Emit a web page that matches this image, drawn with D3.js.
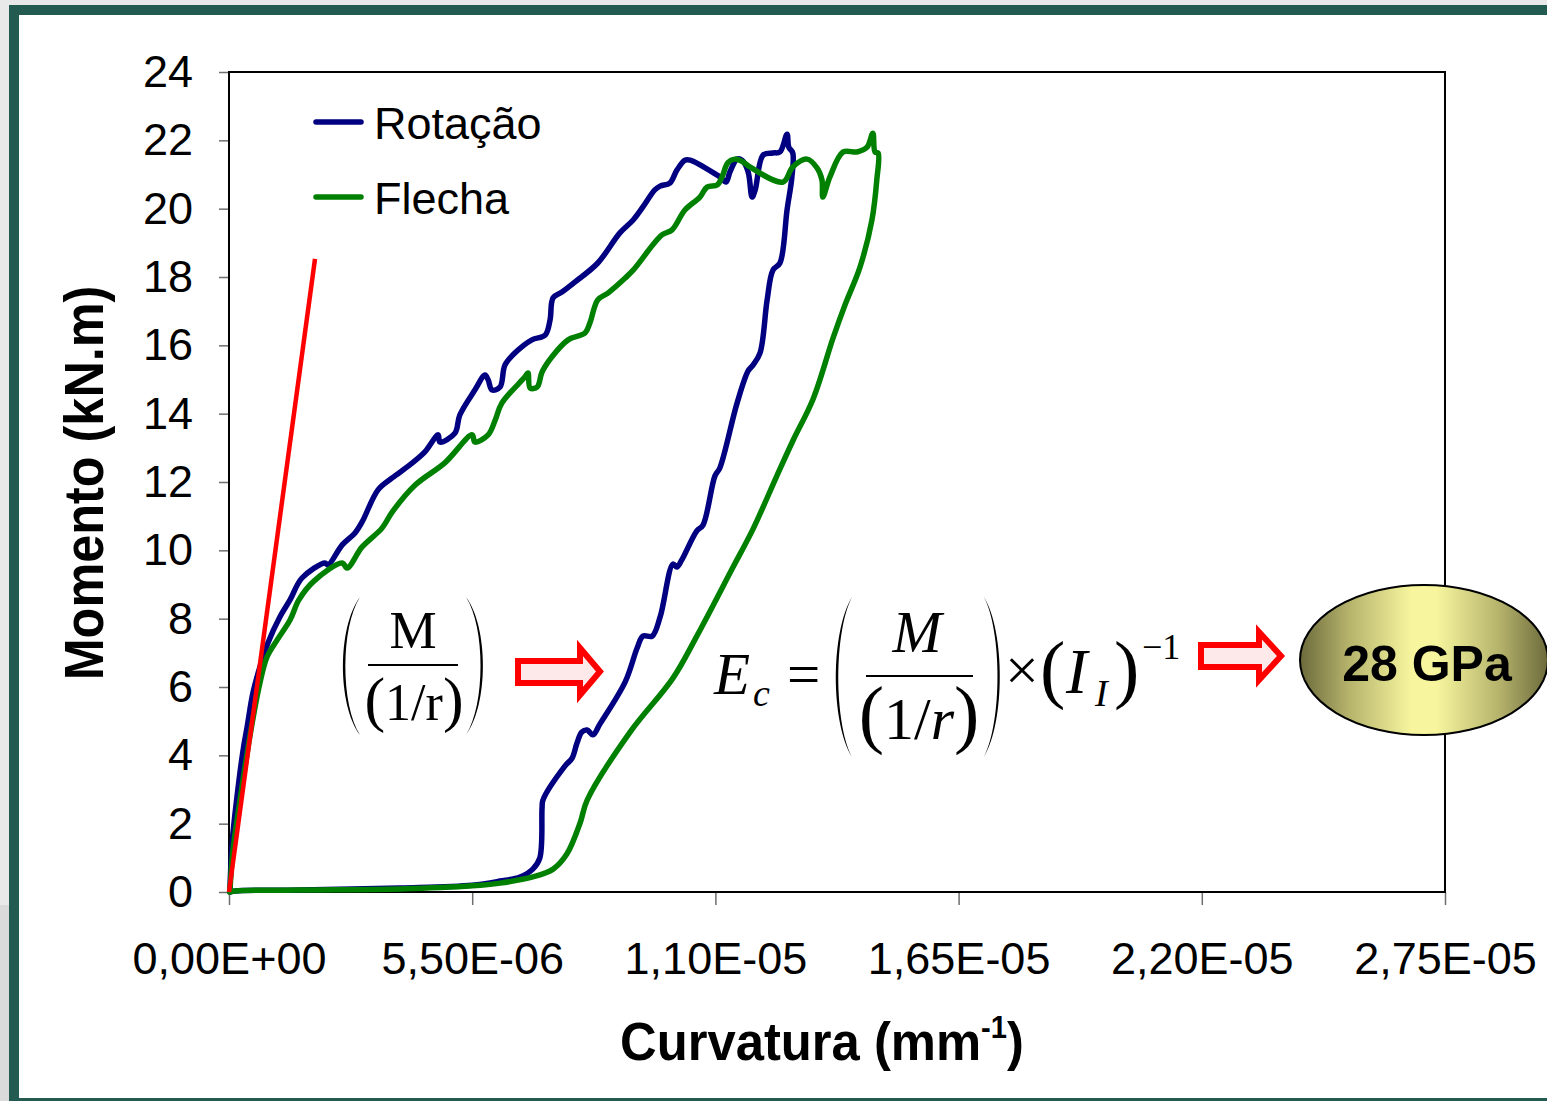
<!DOCTYPE html>
<html>
<head>
<meta charset="utf-8">
<script src="https://cdn.jsdelivr.net/npm/d3@7"></script>
<style>
  html, body { margin: 0; padding: 0; background: #e9e9e9; overflow: hidden; }
  svg { display: block; }
</style>
</head>
<body>
<svg id="chart" width="1547" height="1101"></svg>
<script>
// Curvature in units of 1e-6 mm^-1, moment in kN.m
const rotacao = [
  [0.02,0],[0.07,1.43],[0.18,2.78],[0.32,4.16],[0.41,4.83],[0.54,5.82],[0.70,6.59],[0.88,7.29],
  [1.15,8.05],[1.38,8.55],[1.65,9.19],[2.17,9.63],[2.24,9.57],[2.56,10.16],[2.85,10.51],[3.01,10.83],
  [3.37,11.77],[3.69,12.12],[4.09,12.50],[4.43,12.88],[4.73,13.38],[4.77,13.17],[5.11,13.43],[5.22,13.96],
  [5.56,14.69],[5.79,15.13],[5.86,14.99],[5.95,14.69],[6.13,14.78],[6.24,15.42],[6.47,15.78],[6.85,16.16],
  [7.15,16.30],[7.26,16.74],[7.33,17.39],[7.53,17.56],[7.82,17.85],[8.34,18.41],[8.84,19.29],[9.14,19.67],
  [9.36,20.05],[9.63,20.55],[9.75,20.66],[9.97,20.75],[10.13,21.13],[10.31,21.42],[10.43,21.42],[11.04,20.98],
  [11.10,20.93],[11.24,20.78],[11.33,21.08],[11.49,21.45],[11.60,21.42],[11.74,21.08],[11.83,20.34],[11.90,20.55],
  [12.08,21.57],[12.30,21.63],[12.46,21.66],[12.62,22.18],[12.66,21.80],[12.75,21.63],
  [12.73,20.93],[12.62,19.96],[12.46,18.41],[12.30,18.20],[12.17,17.33],[12.01,15.78],[11.85,15.42],[11.74,15.25],
  [11.49,14.31],[11.10,12.41],[10.99,12.18],[10.72,10.74],[10.58,10.57],[10.24,9.72],[10.13,9.51],[10.04,9.60],
  [9.75,8.05],[9.57,7.49],[9.36,7.49],[9.23,7.14],[8.96,6.15],[8.39,4.92],[8.23,4.60],[8.10,4.74],
  [7.98,4.68],[7.87,4.36],[7.76,3.92],[7.60,3.69],[7.10,2.69],[7.08,2.46],[7.03,1.00],[6.87,0.67],
  [6.58,0.44],[6.13,0.32],[5.50,0.20],[3.87,0.12],[1.61,0.06],[0.14,0.03],[0.02,0]
];

const flecha = [
  [0.02,0],[0.09,1.23],[0.25,2.69],[0.47,4.54],[0.70,6.12],[0.86,6.88],[1.09,7.38],[1.38,7.96],
  [1.58,8.55],[1.92,9.10],[2.56,9.63],[2.67,9.48],[3.01,10.10],[3.46,10.65],[3.69,11.12],[4.21,11.91],
  [4.88,12.56],[5.50,13.38],[5.56,13.17],[5.86,13.38],[6.02,13.81],[6.17,14.31],[6.69,15.07],[6.76,15.19],
  [6.81,14.75],[6.97,14.78],[7.08,15.22],[7.30,15.66],[7.67,16.16],[8.05,16.36],[8.16,16.65],[8.34,17.33],
  [8.57,17.53],[8.96,17.97],[9.14,18.20],[9.79,19.23],[10.02,19.38],[10.31,19.96],[10.65,20.34],[10.81,20.63],
  [11.04,20.69],[11.15,20.93],[11.28,21.34],[11.44,21.45],[11.62,21.37],[11.78,21.22],[12.53,20.78],[12.75,21.22],
  [13.07,21.45],[13.30,21.19],[13.41,20.84],[13.43,20.34],[13.59,20.93],[13.89,21.66],[14.20,21.66],[14.43,21.80],
  [14.56,22.21],[14.61,21.66],[14.68,21.63],
  [14.65,20.84],[14.54,19.67],[14.27,18.29],[13.93,17.18],[13.66,16.21],[13.21,14.43],[12.75,13.20],[12.39,12.18],
  [11.85,10.62],[11.40,9.51],[10.58,7.49],[10.04,6.26],[9.07,4.68],[8.10,2.69],[7.94,2.02],[7.64,1.11],
  [7.33,0.67],[6.87,0.44],[6.13,0.26],[5.50,0.18],[3.87,0.09],[1.61,0.06],[0.14,0.03],[0.02,0]
];

// Initial tangent (elastic stiffness)
const tangente = [[0,0],[1.945,18.53]];

const seriesNames = ["Rotação", "Flecha"];
const seriesColors = ["#000080", "#008000"];

const yTickValues = [0,2,4,6,8,10,12,14,16,18,20,22,24];
const xTickValues = [0,5.5,11,16.5,22,27.5];
const xTickLabels = ["0,00E+00","5,50E-06","1,10E-05","1,65E-05","2,20E-05","2,75E-05"];

const resultLabel = "28 GPa";

// ---------------------------------------------------------------
const svg = d3.select("#chart");
const W = 1547, H = 1101;
const sans = "'Liberation Sans', Arial, Helvetica, sans-serif";
const serif = "'Liberation Serif', 'Times New Roman', Times, serif";

// Slide frame
svg.append("rect").attr("x",0).attr("y",0).attr("width",W).attr("height",H).attr("fill","#e9e9e9");
svg.append("rect").attr("x",0).attr("y",905).attr("width",10).attr("height",H-905).attr("fill","#dadada");
svg.append("rect").attr("x",9).attr("y",5).attr("width",W).attr("height",H).attr("fill","#235b51");
svg.append("rect").attr("x",19).attr("y",15).attr("width",W).attr("height",1083).attr("fill","#ffffff");

const plot = {left:229, top:72, right:1445, bottom:892};
const x = d3.scaleLinear().domain([0,27.5]).range([plot.left, plot.right]);
const y = d3.scaleLinear().domain([0,24]).range([plot.bottom, plot.top]);

// Axes
const yAxis = svg.append("g")
  .attr("transform", `translate(${plot.left},0)`)
  .call(d3.axisLeft(y).tickValues(yTickValues).tickSize(10).tickSizeOuter(0).tickPadding(26));
const xAxis = svg.append("g")
  .attr("transform", `translate(0,${plot.bottom})`)
  .call(d3.axisBottom(x).tickValues(xTickValues).tickSize(13).tickSizeOuter(0).tickPadding(37)
    .tickFormat((d,i) => xTickLabels[i]));
[yAxis, xAxis].forEach(g => {
  g.select(".domain").remove();
  g.selectAll(".tick line").attr("stroke","#6e6e6e").attr("stroke-width",1.5);
  g.selectAll(".tick text").attr("fill","#000").style("font-family",sans).style("font-size","45px");
});

// Plot frame
svg.append("rect")
  .attr("x",plot.left).attr("y",plot.top)
  .attr("width",plot.right-plot.left).attr("height",plot.bottom-plot.top)
  .attr("fill","none").attr("stroke","#000").attr("stroke-width",2);

// Curves
const line = d3.line().x(d => x(d[0])).y(d => y(d[1])).curve(d3.curveCatmullRom.alpha(0.5));
[rotacao, flecha].forEach((data,i) => {
  svg.append("path").datum(data)
    .attr("d", line)
    .attr("fill","none")
    .attr("stroke", seriesColors[i])
    .attr("stroke-width",5.5)
    .attr("stroke-linejoin","round")
    .attr("stroke-linecap","round");
});
svg.append("path").datum(tangente)
  .attr("d", d3.line().x(d => x(d[0])).y(d => y(d[1])))
  .attr("fill","none").attr("stroke","#ff0000").attr("stroke-width",4.5);

// Legend
seriesNames.forEach((name,i) => {
  const ly = 122 + i*75;
  svg.append("line").attr("x1",316).attr("x2",361).attr("y1",ly).attr("y2",ly)
    .attr("stroke",seriesColors[i]).attr("stroke-width",5.5).attr("stroke-linecap","round");
  svg.append("text").attr("x",374).attr("y",ly+17).text(name)
    .style("font-family",sans).style("font-size","45px").attr("fill","#000");
});

// Axis titles
svg.append("text")
  .attr("transform","translate(103,483) rotate(-90) scale(0.9,1)")
  .attr("text-anchor","middle")
  .style("font-family",sans).style("font-size","56px").style("font-weight","bold")
  .text("Momento (kN.m)");

const xt = svg.append("text")
  .attr("transform","translate(822,1060) scale(0.94,1)")
  .attr("text-anchor","middle")
  .style("font-family",sans).style("font-size","54px").style("font-weight","bold");
xt.append("tspan").text("Curvatura (mm");
xt.append("tspan").attr("dy",-22).style("font-size","31px").text("-1");
xt.append("tspan").attr("dy",22).text(")");

// Tall parentheses drawn as tapered crescents
function parenPath(edge, yTop, yBot, w, dir, t) {
  const tipX = edge + dir*w;
  const h = yBot - yTop;
  const cOut = (edge - 0.25*tipX)/0.75;
  const cIn = (edge + dir*t - 0.25*tipX)/0.75;
  return `M${tipX},${yTop} C${cOut},${yTop+0.22*h} ${cOut},${yBot-0.22*h} ${tipX},${yBot}` +
         ` C${cIn},${yBot-0.22*h} ${cIn},${yTop+0.22*h} ${tipX},${yTop}Z`;
}
function bigParens(left, right, yTop, yBot, w) {
  svg.append("path").attr("d", parenPath(left, yTop, yBot, w, 1, 2.4)).attr("fill","#000");
  svg.append("path").attr("d", parenPath(right, yTop, yBot, w, -1, 2.4)).attr("fill","#000");
}
function serifText(txt, xx, yy, size, opts = {}) {
  return svg.append("text").attr("x",xx).attr("y",yy)
    .attr("text-anchor", opts.anchor || "start")
    .style("font-family",serif).style("font-size",size+"px")
    .style("font-style", opts.italic ? "italic" : "normal")
    .attr("fill","#000").text(txt);
}

// Formula: M / (1/r)
bigParens(343, 483, 597, 735, 17);
serifText("M", 413, 648, 53, {anchor:"middle"});
svg.append("line").attr("x1",368).attr("x2",458).attr("y1",665).attr("y2",665)
  .attr("stroke","#000").attr("stroke-width",2);
{
  const t = svg.append("text").attr("x",414).attr("y",720).attr("text-anchor","middle")
    .style("font-family",serif).attr("fill","#000");
  t.append("tspan").style("font-size","62px").text("(");
  t.append("tspan").style("font-size","52px").text("1/r");
  t.append("tspan").style("font-size","62px").text(")");
}

// Formula: Ec = (M / (1/r)) x (I_I)^-1
serifText("E", 714, 694, 59, {italic:true});
serifText("c", 753, 706, 38, {italic:true});
serifText("=", 787, 694, 59);
bigParens(836, 1000, 597, 757, 16);
serifText("M", 917, 652, 59, {anchor:"middle", italic:true});
svg.append("line").attr("x1",866).attr("x2",973).attr("y1",676).attr("y2",676)
  .attr("stroke","#000").attr("stroke-width",2);
{
  const t = svg.append("text").attr("x",919).attr("y",739).attr("text-anchor","middle")
    .style("font-family",serif).attr("fill","#000");
  t.append("tspan").style("font-size","76px").text("(");
  t.append("tspan").style("font-size","60px").text("1/");
  t.append("tspan").style("font-size","60px").style("font-style","italic").text("r");
  t.append("tspan").style("font-size","76px").text(")");
}
serifText("×", 1005, 690, 60);
serifText("(", 1040, 694, 76);
serifText("I", 1066, 693, 64, {italic:true});
serifText("I", 1095, 706, 38, {italic:true});
serifText(")", 1114, 694, 76);
serifText("−1", 1142, 659, 36);

// Hollow arrows
function arrow(left, shaftTop, shaftBot, headX, headTop, headBot, tipX) {
  const mid = (headTop + headBot)/2;
  svg.append("path")
    .attr("d", `M${left},${shaftTop} L${headX},${shaftTop} L${headX},${headTop} L${tipX},${mid}` +
               ` L${headX},${headBot} L${headX},${shaftBot} L${left},${shaftBot}Z`)
    .attr("fill","#fde8ea").attr("stroke","#ff0000").attr("stroke-width",6)
    .attr("stroke-linejoin","miter");
}
arrow(518, 661, 683, 580, 648, 695, 600);
arrow(1201, 645, 667, 1259, 632, 680, 1281);

// Result badge
const grad = svg.append("defs").append("linearGradient")
  .attr("id","badgeFill").attr("x1","0%").attr("x2","100%").attr("y1","0%").attr("y2","0%");
[["0%","#6c6a3b"],["20%","#b6b46c"],["45%","#f7f69e"],["55%","#f7f69e"],["80%","#b6b46c"],["100%","#6c6a3b"]]
  .forEach(([o,c]) => grad.append("stop").attr("offset",o).attr("stop-color",c));
svg.append("ellipse").attr("cx",1424).attr("cy",660).attr("rx",124).attr("ry",75)
  .attr("fill","url(#badgeFill)").attr("stroke","#000").attr("stroke-width",2);
svg.append("text").attr("x",1427).attr("y",681).attr("text-anchor","middle")
  .style("font-family",sans).style("font-size","50px").style("font-weight","bold")
  .attr("fill","#000").text(resultLabel);
</script>
</body>
</html>
